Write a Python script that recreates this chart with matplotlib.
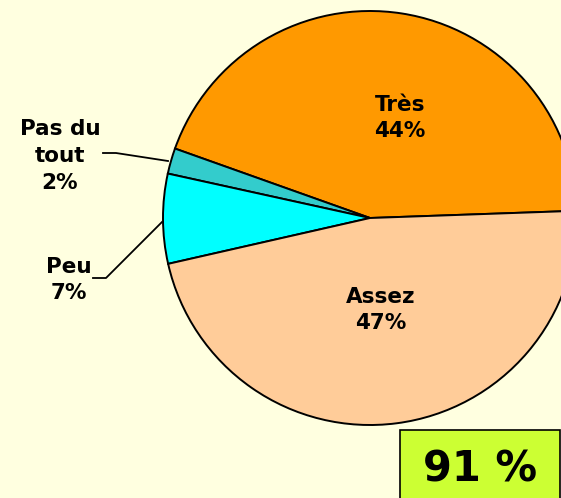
import matplotlib
matplotlib.use('Agg')
import matplotlib.pyplot as plt
from matplotlib.patches import Rectangle

# satisfaction shares
labels = ['Très', 'Pas du\ntout', 'Peu', 'Assez']
values = [44, 2, 7, 47]
colors = ['#FF9900', '#33CCCC', '#00FFFF', '#FFCC99']
total_text = '91 %'

bg = '#FFFFE0'
W, H = 561, 498

fig = plt.figure(figsize=(W / 100, H / 100), dpi=100, facecolor=bg)
ax = fig.add_axes([0, 0, 1, 1])

cx, cy, r = 370, H - 218, 207
wedges, _ = ax.pie(values, colors=colors, startangle=2.0, counterclock=True,
                   center=(cx, cy), radius=r, frame=True,
                   wedgeprops=dict(edgecolor='black', linewidth=1.4))
ax.set_xlim(0, W)
ax.set_ylim(0, H)
ax.set_aspect('equal')
ax.axis('off')

font = dict(fontsize=15.5, fontweight='bold', ha='center', va='center',
            linespacing=1.42, family='DejaVu Sans')

# labels inside the big slices
ax.text(400, H - 118, f'{labels[0]}\n{values[0]}%', **font)
ax.text(381, H - 310, f'{labels[3]}\n{values[3]}%', **font)

# outside labels with leader lines
ax.text(60, H - 156, f'{labels[1]}\n{values[1]}%', **font)
ax.plot([103, 116, 168], [H - 153, H - 153, H - 161], color='black', lw=1.3)
ax.text(69, H - 280, f'{labels[2]}\n{values[2]}%', **font)
ax.plot([93, 106, 162], [H - 278, H - 278, H - 222], color='black', lw=1.3)

# total box
ax.add_patch(Rectangle((400, -5), 160, H - 430 + 5, facecolor='#CCFF33',
                       edgecolor='black', linewidth=1.2, zorder=5))
ax.text(480, H - 469, total_text, fontsize=30, fontweight='bold',
        ha='center', va='center', zorder=6)

fig.savefig('out.png', dpi=100, facecolor=bg)
